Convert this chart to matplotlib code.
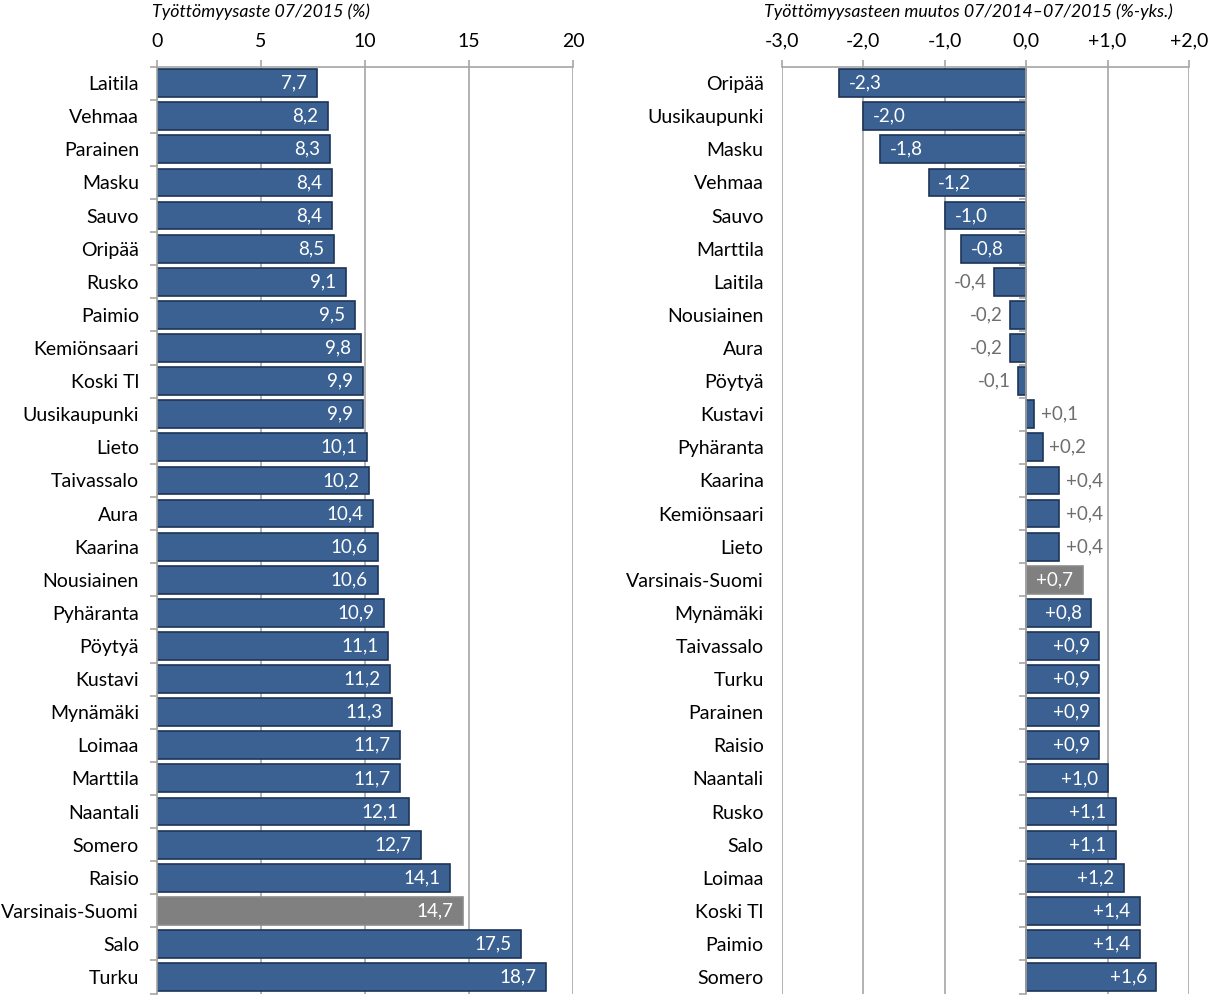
import matplotlib
matplotlib.use("Agg")
import matplotlib.pyplot as plt

plt.rcParams["font.family"] = ["Lato", "DejaVu Sans"]

# left panel: unemployment rate 07/2015 (%)
rate_names = [
    "Laitila", "Vehmaa", "Parainen", "Masku", "Sauvo", "Oripää", "Rusko",
    "Paimio", "Kemiönsaari", "Koski Tl", "Uusikaupunki", "Lieto",
    "Taivassalo", "Aura", "Kaarina", "Nousiainen", "Pyhäranta", "Pöytyä",
    "Kustavi", "Mynämäki", "Loimaa", "Marttila", "Naantali", "Somero",
    "Raisio", "Varsinais-Suomi", "Salo", "Turku",
]
rate_values = [
    7.7, 8.2, 8.3, 8.4, 8.4, 8.5, 9.1, 9.5, 9.8, 9.9, 9.9, 10.1, 10.2, 10.4,
    10.6, 10.6, 10.9, 11.1, 11.2, 11.3, 11.7, 11.7, 12.1, 12.7, 14.1, 14.7,
    17.5, 18.7,
]
rate_ticks = [0, 5, 10, 15, 20]

# right panel: change 07/2014-07/2015 (%-points)
change_names = [
    "Oripää", "Uusikaupunki", "Masku", "Vehmaa", "Sauvo", "Marttila",
    "Laitila", "Nousiainen", "Aura", "Pöytyä", "Kustavi", "Pyhäranta",
    "Kaarina", "Kemiönsaari", "Lieto", "Varsinais-Suomi", "Mynämäki",
    "Taivassalo", "Turku", "Parainen", "Raisio", "Naantali", "Rusko", "Salo",
    "Loimaa", "Koski Tl", "Paimio", "Somero",
]
change_values = [
    -2.3, -2.0, -1.8, -1.2, -1.0, -0.8, -0.4, -0.2, -0.2, -0.1, 0.1, 0.2,
    0.4, 0.4, 0.4, 0.7, 0.8, 0.9, 0.9, 0.9, 0.9, 1.0, 1.1, 1.1, 1.2, 1.4,
    1.4, 1.6,
]
change_ticks = [-3, -2, -1, 0, 1, 2]

REGION = "Varsinais-Suomi"
BLUE = "#3a6191"
EDGE = "#1d3557"
GREY = "#808080"
GRID = "#a6a6a6"
LABEL_GREY = "#6e6e6e"


def fmt(v, sign=False):
    s = f"{v:+.1f}" if sign else f"{v:.1f}"
    if sign and abs(v) < 1e-9:
        s = f"{0:.1f}"
    return s.replace(".", ",")


def setup_axis(ax, names, ticks, tick_fmt, title, title_x, label_pad,
               zero_spine=False):
    n = len(names)
    if zero_spine:
        # category axis sits at zero (must be set before the tick labels)
        ax.spines["left"].set_position(("data", 0))
    ax.set_ylim(n - 0.5, -0.5)
    ax.set_xlim(ticks[0], ticks[-1])
    ax.set_yticks(range(n))
    ax.set_yticklabels(names, fontsize=14)
    ax.tick_params(axis="y", length=0, pad=label_pad)
    # small ticks at category boundaries
    ax.set_yticks([i - 0.5 for i in range(n + 1)], minor=True)
    ax.tick_params(axis="y", which="minor", length=5, width=1.2, color=GRID,
                   direction="out")
    ax.xaxis.tick_top()
    ax.set_xticks(ticks)
    ax.set_xticklabels([tick_fmt(t) for t in ticks], fontsize=14)
    ax.tick_params(axis="x", length=5, width=1.2, color=GRID, pad=7)
    ax.grid(axis="x", color=GRID, linewidth=1.2, zorder=0)
    for side in ["right", "bottom"]:
        ax.spines[side].set_visible(False)
    for side in ["top", "left"]:
        ax.spines[side].set_color(GRID)
        ax.spines[side].set_linewidth(1.2)
        ax.spines[side].set_zorder(5)
    ax.set_axisbelow(True)
    ax.set_title(title, fontsize=12.8, style="italic", loc="left", pad=36,
                 x=title_x)


fig = plt.figure(figsize=(12.09, 9.96), dpi=100)

# left panel
ax1 = fig.add_axes([0.1299, 0.0024, 0.3441, 0.9308])
colors1 = [GREY if nm == REGION else BLUE for nm in rate_names]
edges1 = ["#8c8c8c" if nm == REGION else EDGE for nm in rate_names]
ax1.barh(range(len(rate_names)), rate_values, height=0.84, color=colors1,
         edgecolor=edges1, linewidth=1.2, zorder=3)
for i, v in enumerate(rate_values):
    ax1.annotate(fmt(v), xy=(v, i), xytext=(-7, 0), textcoords="offset points",
                 ha="right", va="center", color="white", fontsize=13.5,
                 zorder=4)
setup_axis(ax1, rate_names, rate_ticks, lambda t: f"{t}",
           "Työttömyysaste 07/2015 (%)", -0.012, 13)

# right panel
ax2 = fig.add_axes([0.6468, 0.0024, 0.3367, 0.9308])
colors2 = [GREY if nm == REGION else BLUE for nm in change_names]
edges2 = ["#8c8c8c" if nm == REGION else EDGE for nm in change_names]
ax2.barh(range(len(change_names)), change_values, height=0.84, color=colors2,
         edgecolor=edges2, linewidth=1.2, zorder=3)
for i, v in enumerate(change_values):
    inside = abs(v) >= 0.6
    if v < 0:
        off, ha = (7, "left") if inside else (-5, "right")
    else:
        off, ha = (-7, "right") if inside else (5, "left")
    ax2.annotate(fmt(v, sign=True), xy=(v, i), xytext=(off, 0),
                 textcoords="offset points", ha=ha, va="center",
                 color="white" if inside else LABEL_GREY, fontsize=13.5,
                 zorder=4)
setup_axis(ax2, change_names, change_ticks, lambda t: fmt(t, sign=True),
           "Työttömyysasteen muutos 07/2014–07/2015 (%-yks.)", -0.045, 189,
           zero_spine=True)

fig.savefig("out.png", dpi=100)
